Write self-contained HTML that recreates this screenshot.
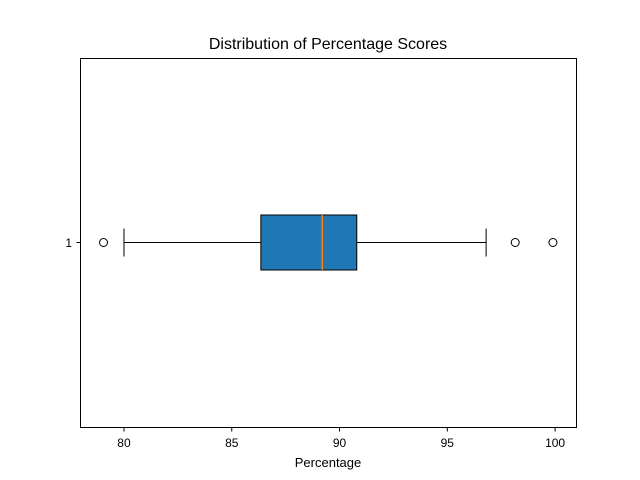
<!DOCTYPE html>
<html><head><meta charset="utf-8"><style>body{margin:0;background:#fff}svg{display:block;font-family:"Liberation Sans","DejaVu Sans",sans-serif}</style></head>
<body>
<svg id="chart" width="640" height="480" viewBox="0 0 640 480" xmlns="http://www.w3.org/2000/svg">
<rect x="0" y="0" width="640" height="480" fill="#fff"/>
<text x="328" y="49" text-anchor="middle" font-size="16" fill="#000">Distribution of Percentage Scores</text>
<g id="plot"></g>
<rect x="80.5" y="58.5" width="496" height="369" fill="none" stroke="#000" stroke-width="1"/>
<text x="328" y="467" text-anchor="middle" font-size="13" fill="#000">Percentage</text>
</svg>
<script>
const categories = ["1"];
const whiskerLow = [80.0];
const q1 = [86.35];
const median = [89.2];
const q3 = [90.8];
const whiskerHigh = [96.8];
const outliers = [[79.05, 98.15, 99.9]];
const xTicks = [80, 85, 90, 95, 100];

const ns = "http://www.w3.org/2000/svg";
const g = document.getElementById('plot');
const x0 = 80, x1 = 576, y0 = 58, y1 = 427;
const dMin = 77.96, dMax = 100.97;
function xs(v){ return x0 + (v - dMin) / (dMax - dMin) * (x1 - x0); }
function ys(i){ return y0 + (i + 1) / (categories.length + 1) * (y1 - y0); }
function el(tag, attrs){ const e = document.createElementNS(ns, tag); for (const k in attrs) e.setAttribute(k, attrs[k]); g.appendChild(e); return e; }

xTicks.forEach(t => {
  const x = xs(t);
  const tk = el('line', {x1:x, x2:x, y1:427.5, y2:431.5, stroke:'#000'});
  
  
  const tl = el('text', {x:x, y:447, 'text-anchor':'middle', 'font-size':12});
  tl.textContent = t;
  
  
});

categories.forEach((c, i) => {
  const y = ys(i);
  const h = 55, cap = 14;
  const yt = el('line', {x1:76.5, x2:80.5, y1:y, y2:y, stroke:'#000'});
  
  
  const yl = el('text', {x:72, y:y+4.5, 'text-anchor':'end', 'font-size':12});
  yl.textContent = c;
  
  
  const w1 = el('line', {x1:xs(whiskerLow[i]), x2:xs(q1[i]), y1:y, y2:y, stroke:'#000'});
  
  
  const w2 = el('line', {x1:xs(q3[i]), x2:xs(whiskerHigh[i]), y1:y, y2:y, stroke:'#000'});
  
  
  const c1 = el('line', {x1:xs(whiskerLow[i]), x2:xs(whiskerLow[i]), y1:y-cap, y2:y+cap, stroke:'#000'});
  
  
  const c2 = el('line', {x1:xs(whiskerHigh[i]), x2:xs(whiskerHigh[i]), y1:y-cap, y2:y+cap, stroke:'#000'});
  
  
  const b = el('rect', {x:xs(q1[i]), y:y-h/2, width:xs(q3[i])-xs(q1[i]), height:h, fill:'#1f77b4', stroke:'#000'});
  
  
  const m = el('line', {x1:xs(median[i]), x2:xs(median[i]), y1:y-h/2, y2:y+h/2, stroke:'#ff7f0e', 'stroke-width':1.5});
  
  
  outliers[i].forEach(v => {
    const o = el('circle', {cx:xs(v), cy:y, r:4, fill:'none', stroke:'#000'});
    
    
  });
});
</script>
</body></html>
